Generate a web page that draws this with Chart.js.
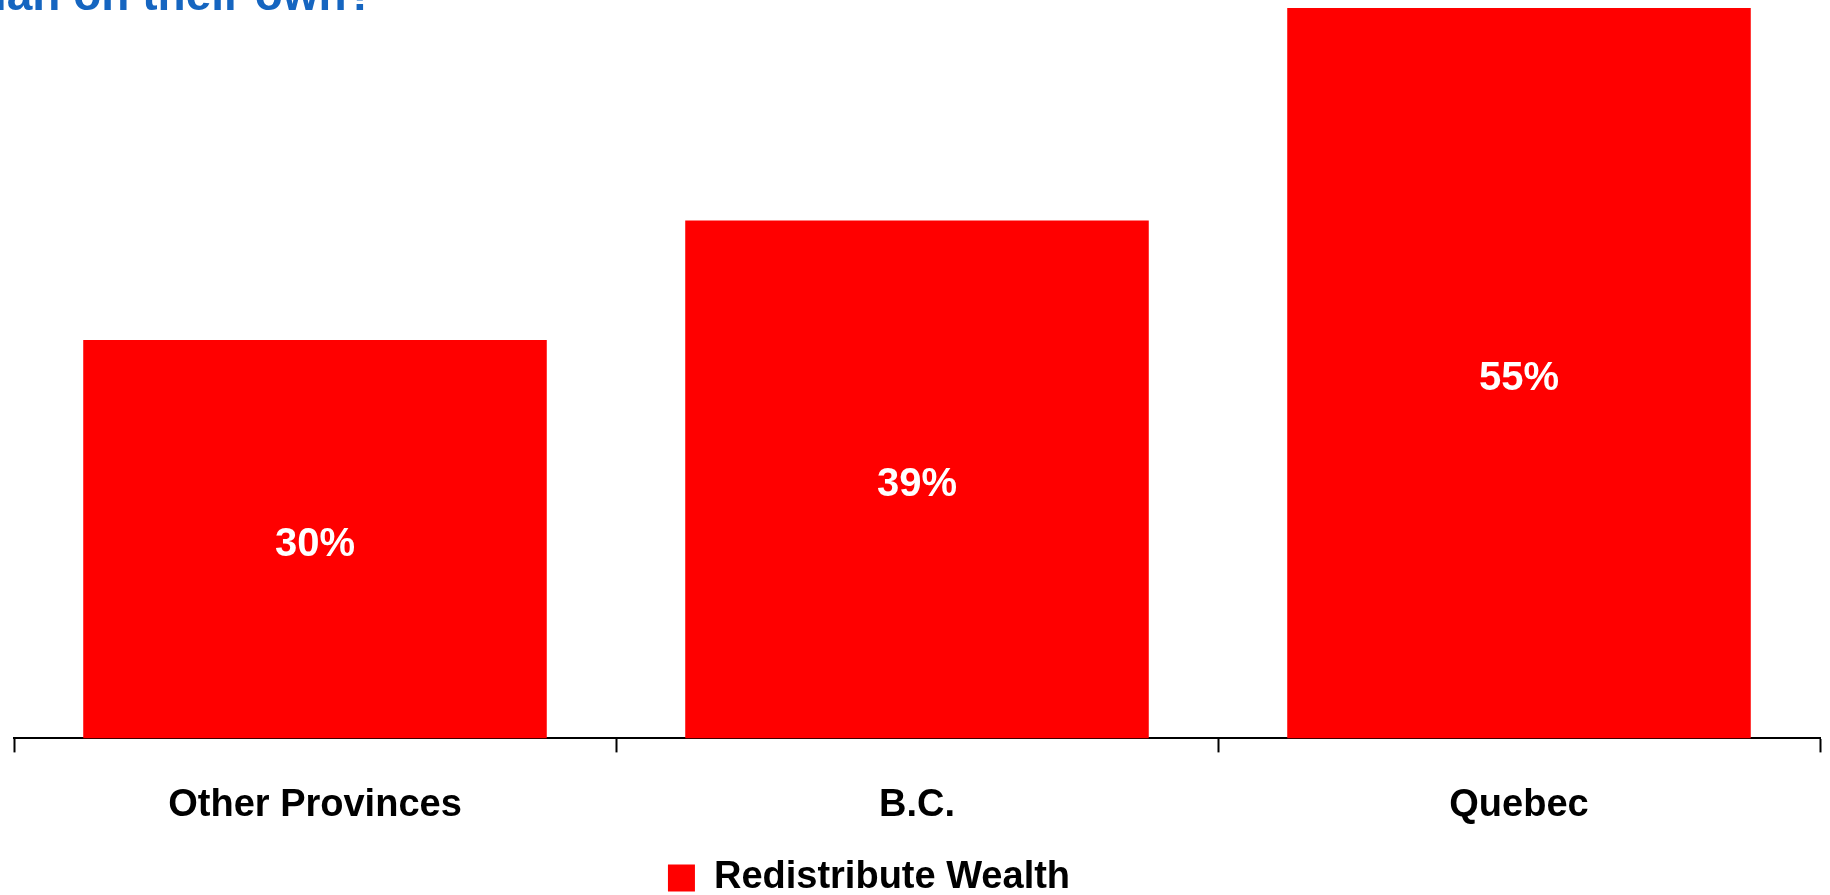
<!DOCTYPE html>
<html>
<head>
<meta charset="utf-8">
<script src="https://cdn.jsdelivr.net/npm/chart.js@4.4.1/dist/chart.umd.min.js"></script>
<style>
    html, body { margin: 0; padding: 0; background: #fff; overflow: hidden; }
    #wrap { position: relative; width: 1830px; height: 895px; overflow: hidden; }
    #title {
        position: absolute; left: -6px; top: -29px;
        font-family: "Liberation Sans", Arial, sans-serif; font-weight: bold;
        font-size: 46px; color: #1565c0; white-space: nowrap; line-height: 1;
    }
    canvas { position: absolute; left: 0; top: 0; }
</style>
</head>
<body>
<div id="wrap">
    <!-- canvas runs a little past the bottom edge so the legend sits low like the original -->
    <canvas id="chart" width="1830" height="911"></canvas>
    <div id="title">ian on their own?</div>
</div>
<script>
const categories = ['Other Provinces', 'B.C.', 'Quebec'];
const redistributeWealth = [30, 39, 55];
const seriesName = 'Redistribute Wealth';

const labelFont = '"Liberation Sans", Arial, sans-serif';

// draw value labels in the middle of each bar
const barValueLabels = {
    id: 'barValueLabels',
    afterDatasetsDraw(chart) {
        const ctx = chart.ctx;
        const meta = chart.getDatasetMeta(0);
        ctx.save();
        ctx.fillStyle = '#fff';
        ctx.font = 'bold 40px "Liberation Sans", Arial, sans-serif';
        ctx.textAlign = 'center';
        ctx.textBaseline = 'middle';
        meta.data.forEach((bar, i) => {
            const mid = (bar.y + bar.base) / 2;
            ctx.fillText(redistributeWealth[i] + '%', bar.x, mid + 6);
        });
        ctx.restore();
    }
};

// the original legend sits a bit left of centre and tight to the bottom
const legendShift = {
    id: 'legendShift',
    afterLayout(chart) {
        chart.legend.left -= 48;
        chart.legend.right -= 48;
        chart.legend.top -= 4;
        chart.legend.bottom -= 4;
    }
};

new Chart(document.getElementById('chart'), {
    type: 'bar',
    data: {
        labels: categories,
        datasets: [{
            label: seriesName,
            data: redistributeWealth,
            backgroundColor: '#ff0000',
            borderWidth: 0,
            categoryPercentage: 0.77,
            barPercentage: 1
        }]
    },
    options: {
        responsive: false,
        animation: false,
        layout: { padding: { top: 8, left: 14, right: 10, bottom: 0 } },
        scales: {
            y: { display: false, min: 0, max: 55 },
            x: {
                border: { display: true, color: '#000', width: 2 },
                grid: {
                    offset: true,
                    drawOnChartArea: false,
                    drawTicks: true,
                    tickLength: 14,
                    tickWidth: 2,
                    tickColor: '#000'
                },
                ticks: {
                    color: '#000',
                    padding: 30,
                    font: { family: labelFont, size: 38, weight: 'bold' }
                }
            }
        },
        plugins: {
            legend: {
                position: 'bottom',
                labels: {
                    color: '#000',
                    boxWidth: 27,
                    boxHeight: 27,
                    padding: 5,
                    font: { family: labelFont, size: 38, weight: 'bold' }
                }
            },
            tooltip: { enabled: false }
        }
    },
    plugins: [barValueLabels, legendShift]
});
</script>
</body>
</html>
